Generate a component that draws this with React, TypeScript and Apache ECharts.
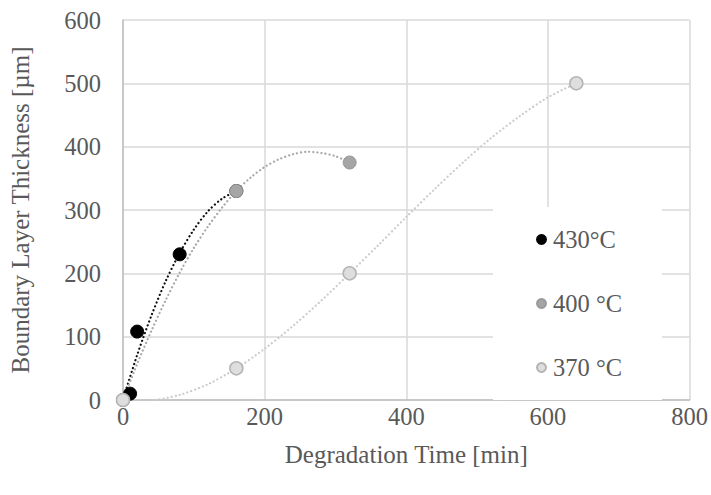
import React, { useEffect, useRef } from "react";
import * as echarts from "echarts";

// Measured points
const s430X = [0, 10, 20, 80, 160];
const s430Y = [0, 10, 108, 230, 330];
const s400X = [0, 160, 320];
const s400Y = [0, 330, 375];
const s370X = [0, 160, 320, 640];
const s370Y = [0, 50, 200, 500];

// Dotted trend curves
const t430X = [0, 20, 40, 60, 80, 100, 120, 140, 160];
const t430Y = [1, 71, 133, 187, 232, 269, 298, 318, 330];
const t400X = [0, 20, 40, 60, 80, 100, 120, 140, 160, 180, 200, 220, 240, 260, 280, 300, 320];
const t400Y = [0, 57, 109, 157, 201, 240, 274, 304, 330, 351, 368, 380, 388, 392, 390, 385, 375];
const t370X = [46, 80, 120, 160, 200, 240, 280, 320, 360, 400, 440, 480, 520, 560, 600, 640];
const t370Y = [0, 8, 25, 50, 81, 117, 157, 200, 244, 289, 333, 375, 414, 448, 478, 500];

const xTicks = { min: 0, max: 800, interval: 200 };
const yTicks = { min: 0, max: 600, interval: 100 };

const zip = (xs: number[], ys: number[]) => xs.map((x, i) => [x, ys[i]]);

const FONT = "'Liberation Serif', 'Times New Roman', serif";
const TXT = "#595959";

export default function App() {
  const ref = useRef<HTMLDivElement>(null);
  useEffect(() => {
    const chart = echarts.init(ref.current!, undefined, { renderer: "svg" });
    const dotted = (color: string) => ({
      color,
      width: 2.2,
      type: [0.1, 4] as number[],
      cap: "round" as const,
    });
    chart.setOption({
      animation: false,
      backgroundColor: "#ffffff",
      grid: { left: 123, right: 20, top: 20, bottom: 95 },
      xAxis: {
        type: "value",
        ...xTicks,
        name: "Degradation Time [min]",
        nameLocation: "middle",
        nameGap: 42,
        nameTextStyle: { fontFamily: FONT, fontSize: 25, color: TXT },
        axisLine: { show: true, lineStyle: { color: "#bfbfbf", width: 1.5 } },
        axisTick: { show: false },
        axisLabel: { fontFamily: FONT, fontSize: 24.5, color: TXT, margin: 4 },
        splitLine: { show: true, lineStyle: { color: "#d9d9d9", width: 1.5 } },
      },
      yAxis: {
        type: "value",
        ...yTicks,
        name: "Boundary Layer Thickness [µm]",
        nameLocation: "middle",
        nameGap: 90,
        nameTextStyle: { fontFamily: FONT, fontSize: 25, color: TXT },
        axisLine: { show: true, lineStyle: { color: "#bfbfbf", width: 1.5 } },
        axisTick: { show: false },
        axisLabel: { fontFamily: FONT, fontSize: 24.5, color: TXT, margin: 22 },
        splitLine: { show: true, lineStyle: { color: "#d9d9d9", width: 1.5 } },
      },
      legend: {
        orient: "vertical",
        left: 493,
        top: 207,
        backgroundColor: "#ffffff",
        padding: [20, 40, 20, 43],
        itemGap: 39,
        itemWidth: 9,
        itemHeight: 9,
        icon: "circle",
        data: ["430°C", "400 °C", "370 °C"],
        textStyle: { fontFamily: FONT, fontSize: 24.5, color: TXT, padding: [0, 0, 0, 2] },
      },
      series: [
        {
          type: "line",
          name: "t430",
          data: zip(t430X, t430Y),
          smooth: 0.3,
          showSymbol: false,
          lineStyle: dotted("#111111"),
          z: 1,
        },
        {
          type: "line",
          name: "t400",
          data: zip(t400X, t400Y),
          smooth: 0.3,
          showSymbol: false,
          lineStyle: dotted("#a8a8a8"),
          z: 1,
        },
        {
          type: "line",
          name: "t370",
          data: zip(t370X, t370Y),
          smooth: 0.3,
          showSymbol: false,
          lineStyle: dotted("#cccccc"),
          z: 1,
        },
        {
          type: "scatter",
          name: "430°C",
          data: zip(s430X, s430Y),
          symbolSize: 13,
          itemStyle: { color: "#000000", borderColor: "#000000", borderWidth: 1, opacity: 1 },
          z: 3,
        },
        {
          type: "scatter",
          name: "400 °C",
          data: zip(s400X, s400Y),
          symbolSize: 13,
          itemStyle: { color: "#a5a5a5", borderColor: "#9a9a9a", borderWidth: 1, opacity: 1 },
          z: 4,
        },
        {
          type: "scatter",
          name: "370 °C",
          data: zip(s370X, s370Y),
          symbolSize: 13,
          itemStyle: { color: "#dedede", borderColor: "#b4b4b4", borderWidth: 1.5, opacity: 1 },
          z: 5,
        },
      ],
    });
    return () => chart.dispose();
  }, []);
  return (
    <div
      ref={ref}
      style={{ position: "fixed", left: 0, top: 0, width: 711, height: 495, background: "#fff" }}
    />
  );
}
